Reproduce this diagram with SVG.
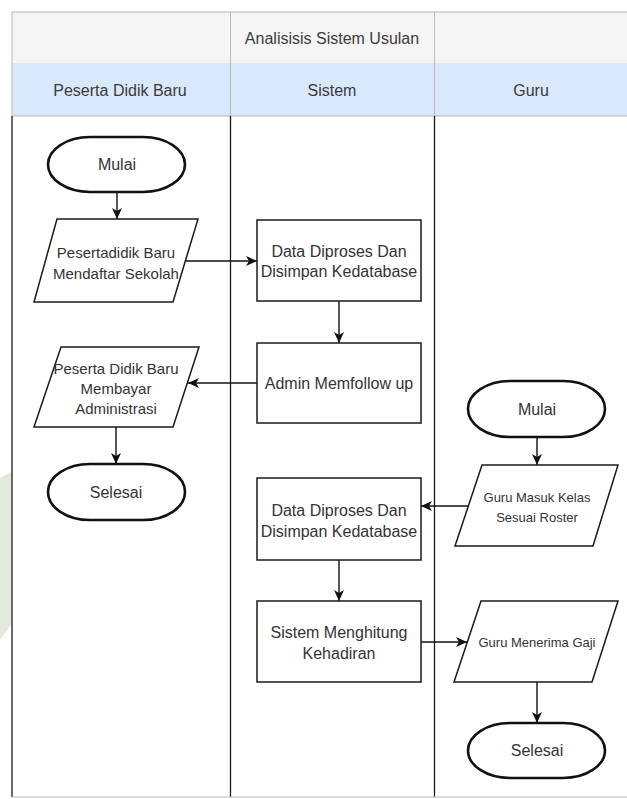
<svg xmlns="http://www.w3.org/2000/svg" width="627" height="799" viewBox="0 0 627 799">
  <style>
    .hdr { fill: #f5f5f5; stroke: none; }
    .lanehdr { fill: #dae8fc; stroke: none; }
    .gridlight { stroke: #b8b8b8; stroke-width: 1; fill: none; }
    .lane { stroke: #1a1a1a; stroke-width: 1.3; fill: none; }
    .proc { fill: #ffffff; stroke: #1a1a1a; stroke-width: 1.5; }
    .io { fill: #ffffff; stroke: #1a1a1a; stroke-width: 1.5; }
    .term { fill: #ffffff; stroke: #111111; stroke-width: 2.6; }
    .edge { stroke: #111111; stroke-width: 1.4; fill: none; marker-end: url(#arrow); }
    text { font-family: "Liberation Sans", Arial, sans-serif; fill: #333333; text-anchor: middle; dominant-baseline: central; }
    .t16 { font-size: 16px; }
    .t15 { font-size: 15px; }
    .t13 { font-size: 13px; }
    .th { font-size: 16px; fill: #3a3a3a; }
  </style>
  <defs>
    <marker id="arrow" markerUnits="userSpaceOnUse" markerWidth="12" markerHeight="10" viewBox="0 0 12 10" refX="11" refY="5" orient="auto">
      <path d="M0,0 L11,5 L0,10 L3,5 Z" fill="#111111"/>
    </marker>
  </defs>

  <rect x="0" y="0" width="627" height="799" fill="#ffffff"/>

  <!-- faint background mark at the left margin -->
  <path d="M0,478 L11,472 L11,625 L0,640 Z" fill="#e2eadb"/>

  <!-- pool header and lane headers -->
  <g id="pool-header">
    <rect class="hdr" x="12" y="12" width="615" height="51"/>
    <rect class="lanehdr" x="12" y="63" width="615" height="53"/>
    <line class="gridlight" x1="12" y1="12" x2="627" y2="12"/>
    <line class="gridlight" x1="12" y1="12" x2="12" y2="116"/>
    <line class="gridlight" x1="230.5" y1="12" x2="230.5" y2="116"/>
    <line class="gridlight" x1="434.5" y1="12" x2="434.5" y2="116"/>
    <line class="gridlight" x1="12" y1="116" x2="627" y2="116"/>
    <text class="th" x="332" y="38">Analisisis Sistem Usulan</text>
  </g>

  <g id="lane-peserta">
    <text class="th" x="120" y="90">Peserta Didik Baru</text>
  </g>
  <g id="lane-sistem">
    <text class="th" x="332" y="90">Sistem</text>
  </g>
  <g id="lane-guru">
    <text class="th" x="531" y="90">Guru</text>
  </g>

  <!-- lane body borders -->
  <g id="lane-borders">
    <line class="lane" x1="12" y1="116" x2="12" y2="797"/>
    <line class="lane" x1="230.5" y1="116" x2="230.5" y2="797"/>
    <line class="lane" x1="434.5" y1="116" x2="434.5" y2="797"/>
    <line class="gridlight" x1="12" y1="797" x2="627" y2="797"/>
  </g>

  <!-- connectors -->
  <g id="connectors">
    <line class="edge" x1="117" y1="192" x2="117" y2="219"/>
    <line class="edge" x1="186" y1="261" x2="257" y2="261"/>
    <line class="edge" x1="339" y1="301" x2="339" y2="343"/>
    <line class="edge" x1="257" y1="383" x2="188" y2="383"/>
    <line class="edge" x1="116" y1="427" x2="116" y2="464"/>
    <line class="edge" x1="537" y1="437" x2="537" y2="465"/>
    <line class="edge" x1="468" y1="506" x2="421" y2="506"/>
    <line class="edge" x1="339" y1="560" x2="339" y2="601"/>
    <line class="edge" x1="421" y1="642" x2="467" y2="642"/>
    <line class="edge" x1="537" y1="682" x2="537" y2="723"/>
  </g>

  <!-- Peserta Didik Baru lane -->
  <g id="mulai-peserta">
    <rect class="term" x="48" y="137" width="137" height="55" rx="42" ry="27.5"/>
    <text class="t16" x="117" y="164">Mulai</text>
  </g>
  <g id="daftar-sekolah">
    <polygon class="io" points="57,219 198,219 173,302 34,302"/>
    <text class="t15" x="116" y="252">Pesertadidik Baru</text>
    <text class="t15" x="116" y="273">Mendaftar Sekolah</text>
  </g>
  <g id="bayar-administrasi">
    <polygon class="io" points="61,347 199,347 173,427 34,427"/>
    <text class="t15" x="116" y="368">Peserta Didik Baru</text>
    <text class="t15" x="116" y="388">Membayar</text>
    <text class="t15" x="116" y="408">Administrasi</text>
  </g>
  <g id="selesai-peserta">
    <rect class="term" x="48" y="464" width="137" height="56" rx="42" ry="28"/>
    <text class="t16" x="116" y="492">Selesai</text>
  </g>

  <!-- Sistem lane -->
  <g id="proses-data-1">
    <rect class="proc" x="257" y="220" width="164" height="81"/>
    <text class="t16" x="339" y="251">Data Diproses Dan</text>
    <text class="t16" x="339" y="271">Disimpan Kedatabase</text>
  </g>
  <g id="admin-followup">
    <rect class="proc" x="257" y="343" width="164" height="80"/>
    <text class="t16" x="339" y="383">Admin Memfollow up</text>
  </g>
  <g id="proses-data-2">
    <rect class="proc" x="257" y="478" width="164" height="82"/>
    <text class="t16" x="339" y="510">Data Diproses Dan</text>
    <text class="t16" x="339" y="531">Disimpan Kedatabase</text>
  </g>
  <g id="hitung-kehadiran">
    <rect class="proc" x="257" y="601" width="164" height="81"/>
    <text class="t16" x="339" y="632">Sistem Menghitung</text>
    <text class="t16" x="339" y="653">Kehadiran</text>
  </g>

  <!-- Guru lane -->
  <g id="mulai-guru">
    <rect class="term" x="468" y="381" width="137" height="56" rx="42" ry="28"/>
    <text class="t16" x="537" y="409">Mulai</text>
  </g>
  <g id="masuk-kelas">
    <polygon class="io" points="482,465 618,465 593,546 455,546"/>
    <text class="t13" x="537" y="497">Guru Masuk Kelas</text>
    <text class="t13" x="537" y="517">Sesuai Roster</text>
  </g>
  <g id="terima-gaji">
    <polygon class="io" points="481,601 618,601 592,682 454,682"/>
    <text class="t13" x="537" y="642">Guru Menerima Gaji</text>
  </g>
  <g id="selesai-guru">
    <rect class="term" x="468" y="723" width="137" height="55" rx="42" ry="27.5"/>
    <text class="t16" x="537" y="750">Selesai</text>
  </g>
</svg>
